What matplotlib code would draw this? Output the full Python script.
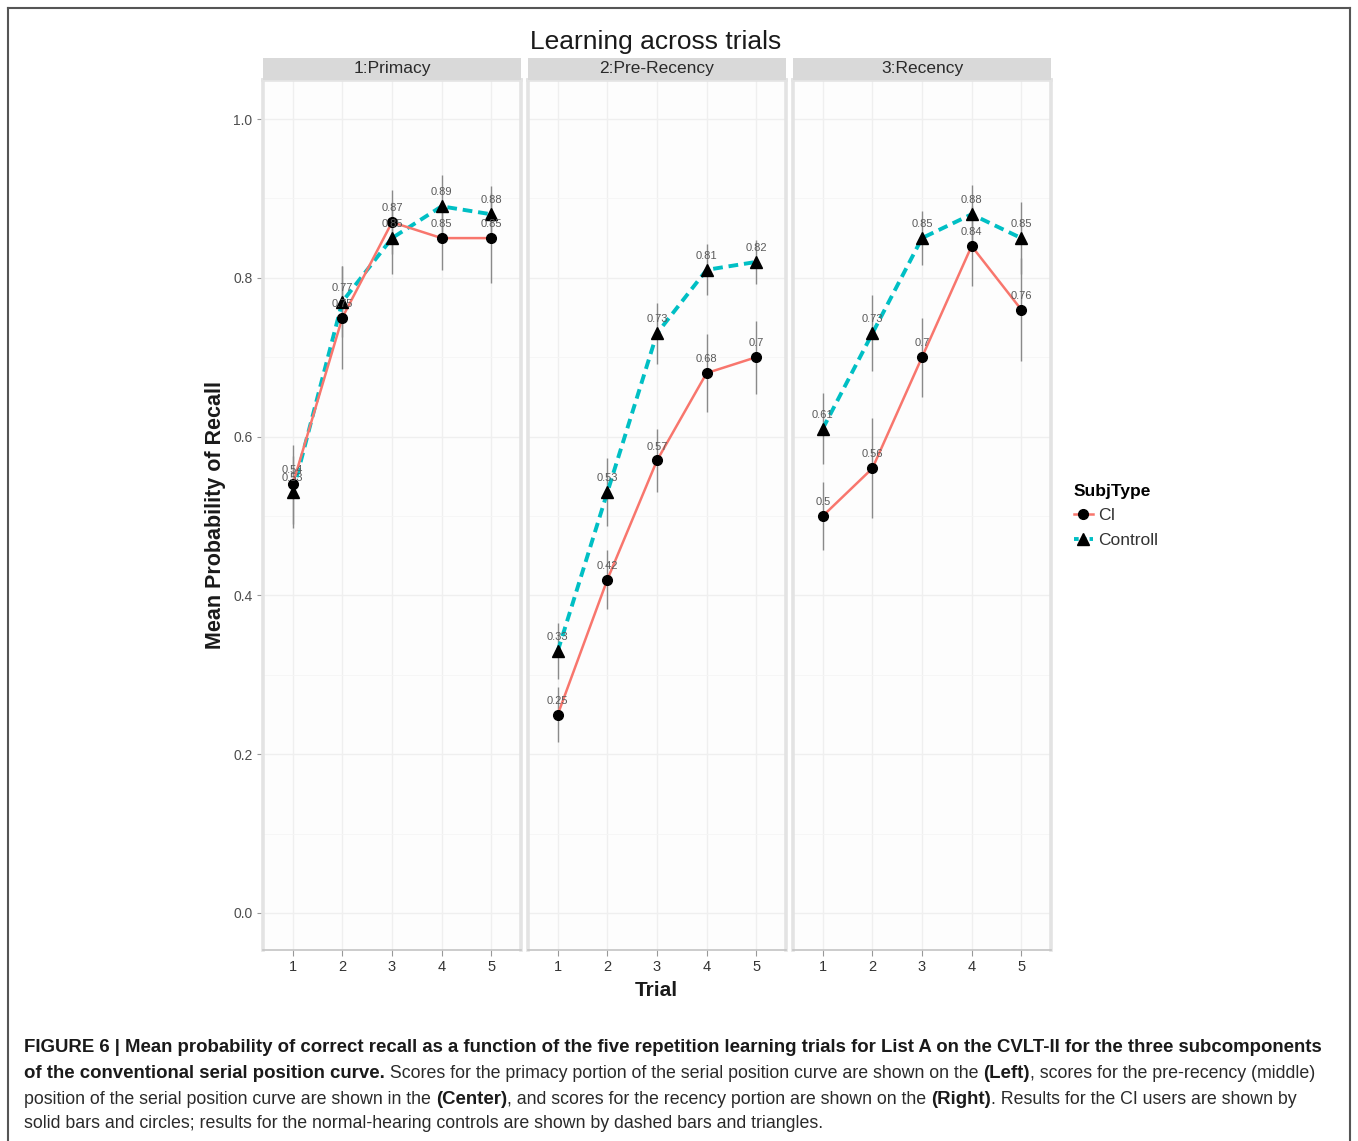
import numpy as np
import matplotlib
matplotlib.use("Agg")
import matplotlib.pyplot as plt
from matplotlib.lines import Line2D
from matplotlib.patches import Rectangle

plt.rcParams['font.family'] = ['Liberation Sans', 'DejaVu Sans']

# ---------------- data ----------------
trials = [1, 2, 3, 4, 5]
trial_labels = ["1", "2", "3", "4", "5"]
panel_names = ["1:Primacy", "2:Pre-Recency", "3:Recency"]
series_names = ["CI", "Controll"]
legend_title = "SubjType"

ci_primacy = [0.54, 0.75, 0.87, 0.85, 0.85]
ctrl_primacy = [0.53, 0.77, 0.85, 0.89, 0.88]
ci_prerecency = [0.25, 0.42, 0.57, 0.68, 0.70]
ctrl_prerecency = [0.33, 0.53, 0.73, 0.81, 0.82]
ci_recency = [0.50, 0.56, 0.70, 0.84, 0.76]
ctrl_recency = [0.61, 0.73, 0.85, 0.88, 0.85]

ci_primacy_err = [0.05, 0.065, 0.04, 0.04, 0.057]
ctrl_primacy_err = [0.045, 0.045, 0.045, 0.04, 0.035]
ci_prerecency_err = [0.035, 0.037, 0.04, 0.049, 0.046]
ctrl_prerecency_err = [0.035, 0.043, 0.038, 0.032, 0.028]
ci_recency_err = [0.043, 0.063, 0.05, 0.05, 0.065]
ctrl_recency_err = [0.045, 0.048, 0.034, 0.037, 0.045]

yticks = [0.0, 0.2, 0.4, 0.6, 0.8, 1.0]
ytick_labels = ["0.0", "0.2", "0.4", "0.6", "0.8", "1.0"]

title = "Learning across trials"
xlabel = "Trial"
ylabel = "Mean Probability of Recall"

caption_lines = [
    [("FIGURE 6 | Mean probability of correct recall as a function of the five repetition learning trials for List A on the CVLT-II for the three subcomponents", "bold")],
    [("of the conventional serial position curve.", "bold"),
     (" Scores for the primacy portion of the serial position curve are shown on the ", "normal"),
     ("(Left)", "bold"),
     (", scores for the pre-recency (middle)", "normal")],
    [("position of the serial position curve are shown in the ", "normal"),
     ("(Center)", "bold"),
     (", and scores for the recency portion are shown on the ", "normal"),
     ("(Right)", "bold"),
     (". Results for the CI users are shown by", "normal")],
    [("solid bars and circles; results for the normal-hearing controls are shown by dashed bars and triangles.", "normal")],
]

ci_sets = [(ci_primacy, ci_primacy_err), (ci_prerecency, ci_prerecency_err), (ci_recency, ci_recency_err)]
ctrl_sets = [(ctrl_primacy, ctrl_primacy_err), (ctrl_prerecency, ctrl_prerecency_err), (ctrl_recency, ctrl_recency_err)]

# ---------------- style ----------------
W, H = 1358, 1141
RED = "#F8766D"
TEAL = "#00BFC4"

def fx(px):
    return px / W

def fy(py):
    return 1 - py / H

fig = plt.figure(figsize=(W / 100, H / 100), dpi=100)
fig.patch.set_facecolor("white")

panel_lefts = [263, 528, 793]
panel_w = 258
panel_top, panel_bot = 80, 950
y0_px, y1_px = 913, 119
scale = y0_px - y1_px
ylo = -(panel_bot - y0_px) / scale
yhi = (y0_px - panel_top) / scale
strip_h = 22 / (panel_bot - panel_top)

for i, left in enumerate(panel_lefts):
    ax = fig.add_axes([fx(left), fy(panel_bot), panel_w / W, (panel_bot - panel_top) / H])
    ax.set_facecolor("#FDFDFD")
    ax.set_xlim(0.4, 5.6)
    ax.set_ylim(ylo, yhi)
    ax.set_yticks(yticks)
    ax.set_yticks([0.1, 0.3, 0.5, 0.7, 0.9], minor=True)
    ax.set_xticks(trials)
    ax.set_xticklabels(trial_labels)
    ax.grid(True, which="major", color="#EFEFEF", lw=1.0)
    ax.grid(True, which="minor", axis="y", color="#F5F5F5", lw=0.6)
    ax.set_axisbelow(True)
    for s in ["left", "right", "top"]:
        ax.spines[s].set_color("#E3E3E3")
        ax.spines[s].set_linewidth(2.6)
    ax.spines["bottom"].set_color("#C4C4C4")
    ax.spines["bottom"].set_linewidth(1.2)
    ax.tick_params(axis="x", length=4, width=0.8, color="#999999", labelsize=10.5,
                   labelcolor="#333333", pad=3)
    ax.tick_params(axis="y", which="minor", length=0)
    if i == 0:
        ax.set_yticklabels(ytick_labels)
        ax.tick_params(axis="y", which="major", length=4.5, width=0.8, color="#999999",
                       labelsize=10, labelcolor="#4D4D4D", pad=3)
    else:
        ax.tick_params(axis="y", which="major", length=0, labelleft=False)

    ci_vals, ci_err = ci_sets[i]
    ct_vals, ct_err = ctrl_sets[i]
    ci_vals = np.array(ci_vals); ci_err = np.array(ci_err)
    ct_vals = np.array(ct_vals); ct_err = np.array(ct_err)

    ax.vlines(trials, ci_vals - ci_err, ci_vals + ci_err, color="#8A8A8A", lw=1.0, zorder=2)
    ax.vlines(trials, ct_vals - ct_err, ct_vals + ct_err, color="#8A8A8A", lw=1.0, zorder=2)
    ax.plot(trials, ct_vals, color=TEAL, lw=2.8, dashes=(2.5, 1.5), zorder=3)
    ax.plot(trials, ci_vals, color=RED, lw=1.8, zorder=3.5)
    ax.plot(trials, ci_vals, ls="none", marker="o", ms=7, color="black", zorder=4)
    ax.plot(trials, ct_vals, ls="none", marker="^", ms=8, color="black", zorder=4)
    for x, v in zip(trials, ci_vals):
        ax.annotate(f"{v:g}", (x, v), xytext=(0, 10), textcoords="offset points",
                    ha="center", va="center", fontsize=8, color="#5A5A5A", zorder=5)
    for x, v in zip(trials, ct_vals):
        ax.annotate(f"{v:g}", (x, v), xytext=(0, 10), textcoords="offset points",
                    ha="center", va="center", fontsize=8, color="#5A5A5A", zorder=5)

    # facet strip
    ax.add_patch(Rectangle((0, 1.0), 1, strip_h, transform=ax.transAxes,
                           facecolor="#D9D9D9", edgecolor="none", clip_on=False, zorder=6))
    ax.text(0.5, 1.0 + strip_h / 2, panel_names[i], transform=ax.transAxes,
            ha="center", va="center", fontsize=12.5, color="#2A2A2A", zorder=7)

fig.text(fx(656), fy(42), title, ha="center", va="center", fontsize=19, color="#1A1A1A")
fig.text(fx(656), fy(990), xlabel, ha="center", va="center", fontsize=15, weight="bold",
         color="#1A1A1A")
fig.text(fx(215), fy(515), ylabel, ha="center", va="center", rotation=90, fontsize=15.5,
         weight="bold", color="#1A1A1A")

handles = [
    Line2D([], [], color=RED, lw=1.8, marker="o", ms=7, mfc="black", mec="black"),
    Line2D([], [], color=TEAL, lw=2.8, dashes=(1.2, 0.8), marker="^", ms=8, mfc="black", mec="black"),
]
leg = fig.legend(handles, series_names, title=legend_title, loc="upper left",
                 bbox_to_anchor=(fx(1058), fy(468)), frameon=False, handlelength=1.1,
                 handletextpad=0.3, labelspacing=0.55, fontsize=12.5,
                 title_fontproperties={"weight": "bold", "size": 12.5}, alignment="left")
for t in leg.get_texts():
    t.set_color("#333333")

# frame
for (xa, ya, xb, yb) in [(8, 8, 1350, 8), (8, 8, 8, 1141), (1350, 8, 1350, 1141)]:
    fig.add_artist(Line2D([fx(xa), fx(xb)], [fy(ya), fy(yb)], color="#555555", lw=1.5))

# caption with mixed weights
renderer = fig.canvas.get_renderer()

def text_width(s, weight, size):
    t1 = fig.text(0, 0, "x" + s + "x", fontsize=size, weight=weight)
    t2 = fig.text(0, 0, "xx", fontsize=size, weight=weight)
    w = t1.get_window_extent(renderer).width - t2.get_window_extent(renderer).width
    t1.remove(); t2.remove()
    return w

cap_sizes = {"bold": 13.4, "normal": 12.8}
line_y = [1048, 1073, 1099, 1124]
for runs, ly in zip(caption_lines, line_y):
    xpx = 24
    for s, wgt in runs:
        sz = cap_sizes[wgt]
        fig.text(fx(xpx), fy(ly), s, fontsize=sz, weight=wgt, ha="left", va="center",
                 color="#1A1A1A" if wgt == "bold" else "#2A2A2A")
        xpx += text_width(s, wgt, sz)

fig.savefig("out.png", dpi=100)
